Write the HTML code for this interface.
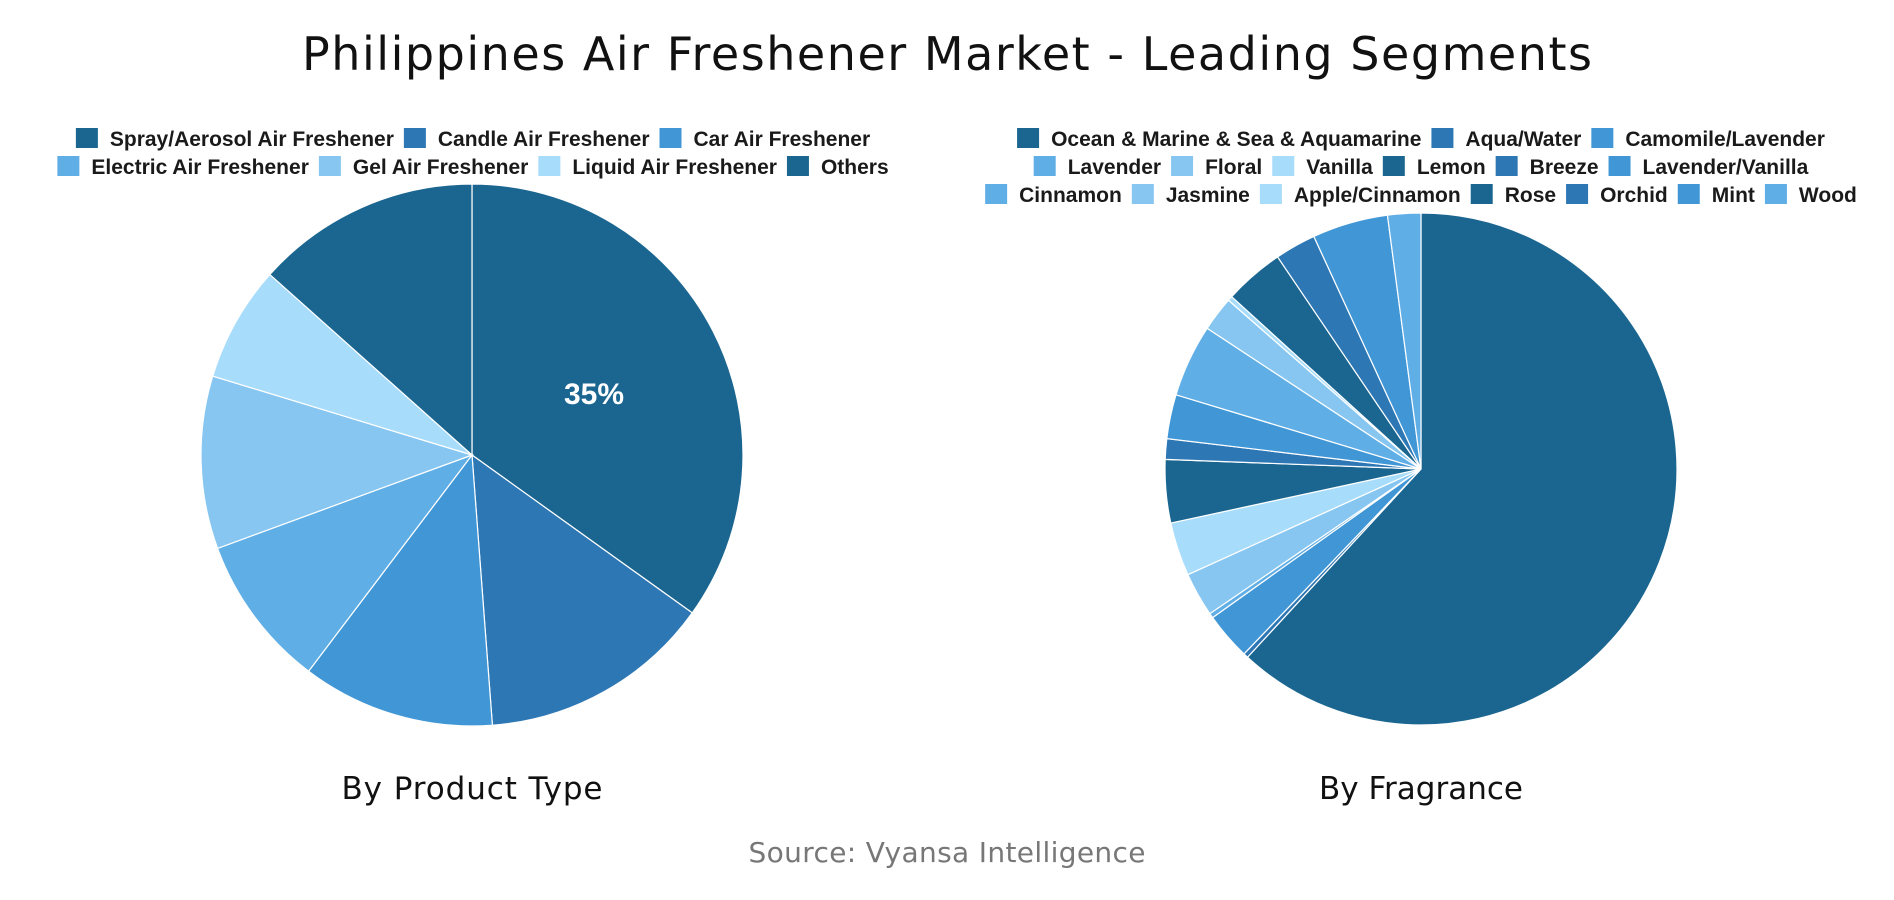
<!DOCTYPE html>
<html><head><meta charset="utf-8"><style>
html,body{margin:0;padding:0;background:#fff;}
svg{display:block;}
text{font-family:"Liberation Sans",Arial,sans-serif;}
</style></head><body>
<svg id="s" width="1894" height="900" viewBox="0 0 1894 900" xmlns="http://www.w3.org/2000/svg">
<rect width="1894" height="900" fill="#fff"/>
<text x="947" y="70" text-anchor="middle" font-size="46" fill="#111" style="font-family:'DejaVu Sans','Liberation Sans',sans-serif" textLength="1290">Philippines Air Freshener Market - Leading Segments</text>
<g id="p1"></g><g id="p2"></g><g id="l1"></g><g id="l2"></g>
<text x="594" y="404" text-anchor="middle" font-size="30" font-weight="bold" fill="#fff">35%</text>
<text x="472" y="799" text-anchor="middle" font-size="31" fill="#111" style="font-family:'DejaVu Sans','Liberation Sans',sans-serif" textLength="261">By Product Type</text>
<text x="1421" y="799" text-anchor="middle" font-size="31" fill="#111" style="font-family:'DejaVu Sans','Liberation Sans',sans-serif">By Fragrance</text>
<text x="947" y="862" text-anchor="middle" font-size="28" fill="#777" style="font-family:'DejaVu Sans','Liberation Sans',sans-serif" textLength="397">Source: Vyansa Intelligence</text>
</svg>
<script>
var C=["#1b6690","#2e77b5","#4197d6","#60aee6","#86c6f0","#a8dcfb"];
var NS="http://www.w3.org/2000/svg";
function pie(id,cx,cy,r,vals){
 var g=document.getElementById(id),tot=vals.reduce((a,b)=>a+b,0),a=0;
 vals.forEach(function(v,i){
  var a0=a/tot*2*Math.PI,a1=(a+v)/tot*2*Math.PI;a+=v;
  var x0=cx+r*Math.sin(a0),y0=cy-r*Math.cos(a0),x1=cx+r*Math.sin(a1),y1=cy-r*Math.cos(a1);
  var p=document.createElementNS(NS,"path");
  p.setAttribute("d","M"+cx+","+cy+"L"+x0+","+y0+"A"+r+","+r+" 0 "+((a1-a0)>Math.PI?1:0)+" 1 "+x1+","+y1+"Z");
  p.setAttribute("fill",C[i%6]);p.setAttribute("stroke","#fff");p.setAttribute("stroke-width","1.2");
  g.appendChild(p);
 });
}
pie("p1",472,455,271,[34.9,13.9,11.5,9.1,10.3,6.9,13.4]);
pie("p2",1421,469,256,[62.1,0.3,3.0,0.3,2.8,3.4,4.0,1.3,2.8,4.6,2.2,0.3,3.8,2.6,4.8,2.1]);
function legend(id,cx,rows){
 var g=document.getElementById(id),k=0;
 rows.forEach(function(row){
  var y=row[0],items=row[1],tmp=[],w=0;
  items.forEach(function(t){
   var tx=document.createElementNS(NS,"text");tx.textContent=t;
   tx.setAttribute("font-size","21");tx.setAttribute("font-weight","bold");tx.setAttribute("fill","#1a1a1a");
   g.appendChild(tx);var tw=tx.getComputedTextLength();tmp.push([tx,tw]);w+=22+12+tw+10;
  });
  w-=10;var x=cx-w/2;
  tmp.forEach(function(o){
   var rc=document.createElementNS(NS,"rect");
   rc.setAttribute("x",x);rc.setAttribute("y",y-10);rc.setAttribute("width",22);rc.setAttribute("height",20);
   rc.setAttribute("fill",C[k%6]);k++;g.appendChild(rc);
   o[0].setAttribute("x",x+34);o[0].setAttribute("y",y+8);x+=34+o[1]+10;
  });
 });
}
legend("l1",473,[[138,["Spray/Aerosol Air Freshener","Candle Air Freshener","Car Air Freshener"]],[166,["Electric Air Freshener","Gel Air Freshener","Liquid Air Freshener","Others"]]]);
legend("l2",1421,[[138,["Ocean & Marine & Sea & Aquamarine","Aqua/Water","Camomile/Lavender"]],[166,["Lavender","Floral","Vanilla","Lemon","Breeze","Lavender/Vanilla"]],[194,["Cinnamon","Jasmine","Apple/Cinnamon","Rose","Orchid","Mint","Wood"]]]);
</script>
</body></html>
